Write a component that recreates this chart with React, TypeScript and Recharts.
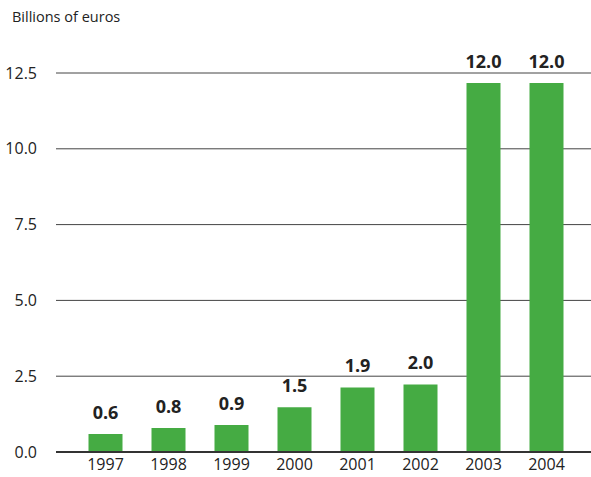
import { Bar, BarChart, CartesianGrid, LabelList, ReferenceLine, XAxis, YAxis } from 'recharts';

// years on the x axis
const years = ['1997', '1998', '1999', '2000', '2001', '2002', '2003', '2004'];
// bar heights as drawn in the picture
const heights = [0.59, 0.79, 0.89, 1.48, 2.13, 2.23, 12.17, 12.17];
// printed value labels above the bars
const valueLabels = ['0.6', '0.8', '0.9', '1.5', '1.9', '2.0', '12.0', '12.0'];
const yTicks = [0, 2.5, 5, 7.5, 10, 12.5];

const data = years.map((year, i) => ({ year, value: heights[i], label: valueLabels[i] }));

const FONT = '"Open Sans", "Noto Sans", sans-serif';
const GREEN = '#45ab43';

export default function App() {
    return (
        <div style={{ position: 'absolute', left: 0, top: 0, width: 591, height: 477, fontFamily: FONT }}>
            <div style={{ position: 'absolute', left: 12, top: 7, fontSize: 14.5, color: '#222' }}>Billions of euros</div>
            <BarChart
                width={591}
                height={477}
                data={data}
                margin={{ top: 73, right: 0, left: 0, bottom: 0 }}
                barCategoryGap={14.5}
            >
                <CartesianGrid vertical={false} stroke='#444' strokeWidth={1} />
                <XAxis
                    dataKey='year'
                    height={25}
                    padding={{ left: 18, right: 13 }}
                    axisLine={false}
                    tickLine={false}
                    tickSize={0}
                    tickMargin={7}
                    tick={{ fill: '#222', fontSize: 16, fontFamily: FONT }}
                />
                <YAxis
                    width={56}
                    domain={[0, 12.5]}
                    ticks={yTicks}
                    tickFormatter={(v) => v.toFixed(1)}
                    axisLine={false}
                    tickLine={false}
                    tickSize={0}
                    tickMargin={19}
                    tick={{ fill: '#222', fontSize: 16, fontFamily: FONT }}
                />
                <ReferenceLine y={0} stroke='#333' strokeWidth={2} />
                <Bar dataKey='value' fill={GREEN} isAnimationActive={false}>
                    <LabelList
                        dataKey='label'
                        position='top'
                        offset={15}
                        style={{ fill: '#222', fontSize: 18, fontWeight: 700, fontFamily: FONT }}
                    />
                </Bar>
            </BarChart>
        </div>
    );
}
